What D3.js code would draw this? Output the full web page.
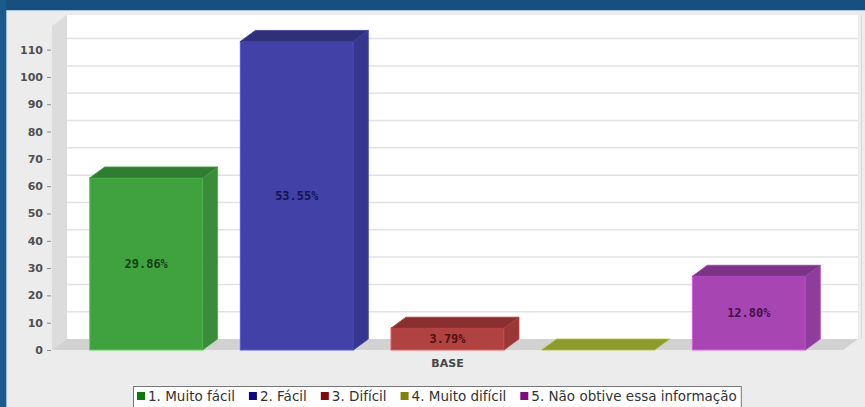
<!DOCTYPE html>
<html>
<head>
<meta charset="utf-8">
<script src="https://cdn.jsdelivr.net/npm/d3@7"></script>
<style>
  html, body { margin: 0; padding: 0; background: #ececec; }
  svg { display: block; }
</style>
</head>
<body>
<svg id="chart" width="865" height="407"></svg>
<script>
// Response counts per answer option (single category "BASE")
const category = "BASE";
const seriesNames = ["1. Muito fácil", "2. Fácil", "3. Difícil", "4. Muito difícil", "5. Não obtive essa informação"];
const counts = [63, 113, 8, 0, 27];
const yTicks = [0, 10, 20, 30, 40, 50, 60, 70, 80, 90, 100, 110];

// Palette: front face, top face, side face, label text, legend swatch
const frontColors = ["#3fa23f", "#4141a8", "#b04242", "#a0a032", "#a746b3"];
const topColors   = ["#2f7d30", "#30307a", "#8a2f2f", "#8d9a2c", "#7d3388"];
const sideColors  = ["#3a8c3b", "#36368f", "#993737", "#8f8f2a", "#8f3c9c"];
const labelColors = ["#173f17", "#15154f", "#4f1010", "#4a4a10", "#451048"];
const swatchColors = ["#0a7a0a", "#0a0a80", "#800a0a", "#80800a", "#800a80"];

const total = d3.sum(counts);
const pct = counts.map(c => (100 * c / total).toFixed(2) + "%");

const svg = d3.select("#chart");
const W = 865, H = 407;

// Frame: dark blue border bands
svg.append("rect").attr("x", 0).attr("y", 0).attr("width", W).attr("height", H).attr("fill", "#ececec");
svg.append("rect").attr("x", 0).attr("y", 0).attr("width", W).attr("height", 10).attr("fill", "#17507f");
svg.append("rect").attr("x", 0).attr("y", 0).attr("width", 6).attr("height", H).attr("fill", "#1b5a8c");
svg.append("line").attr("x1", 6).attr("x2", W).attr("y1", 10.5).attr("y2", 10.5).attr("stroke", "#a9c6de");
svg.append("line").attr("x1", 6.5).attr("x2", 6.5).attr("y1", 10).attr("y2", H).attr("stroke", "#9dbbd6");

// Plot geometry (front plane) and 3D depth offsets
const x0 = 52, x1 = 843, yBase = 350, yTop = 26;
const dx = 15, dy = 11;

const y = d3.scaleLinear().domain([0, 118.65]).range([yBase, yTop]);
const x = d3.scaleBand().domain(seriesNames).range([x0, x1]).paddingInner(0.25).paddingOuter(0.25);
const bw = x.bandwidth();

// Back wall
svg.append("rect").attr("x", x0 + dx).attr("y", yTop - dy)
  .attr("width", x1 - x0).attr("height", yBase - yTop).attr("fill", "#ffffff");
svg.append("line").attr("x1", x1 + dx + 3.5).attr("x2", x1 + dx + 3.5)
  .attr("y1", yTop - dy).attr("y2", yBase - dy).attr("stroke", "#dcdcdc");

// Gridlines on the back wall
svg.append("g").selectAll("line").data(yTicks.filter(t => t > 0)).join("line")
  .attr("x1", x0 + dx).attr("x2", x1 + dx)
  .attr("y1", d => y(d) - dy).attr("y2", d => y(d) - dy)
  .attr("stroke", "#e2e2e2").attr("stroke-width", 1.5);

// Left wall
svg.append("polygon")
  .attr("points", [[x0, yBase], [x0, yTop], [x0 + dx, yTop - dy], [x0 + dx, yBase - dy]].join(" "))
  .attr("fill", "#dcdcdc");

// Floor
svg.append("polygon")
  .attr("points", [[x0, yBase], [x0 + dx, yBase - dy], [x1 + dx, yBase - dy], [x1, yBase]].join(" "))
  .attr("fill", "#d2d2d2");

// Y axis
const yAxis = d3.axisLeft(y).tickValues(yTicks).tickSize(4).tickPadding(4);
const gy = svg.append("g").attr("transform", `translate(${x0 - 1},0)`).call(yAxis);
gy.select(".domain").remove();
gy.selectAll(".tick line").attr("stroke", "#888");
gy.selectAll(".tick text")
  .attr("fill", "#505050")
  .style("font-family", "DejaVu Sans")
  .style("font-weight", "bold")
  .style("font-size", "11px");

// 3D bars
const bars = svg.append("g").selectAll("g").data(seriesNames).join("g");
bars.each(function (name, i) {
  const g = d3.select(this);
  const bx = x(name);
  const vy = y(counts[i]);
  if (counts[i] > 0) {
    g.append("rect").attr("x", bx).attr("y", vy).attr("width", bw).attr("height", yBase - vy)
      .attr("fill", frontColors[i]).attr("stroke", d3.color(frontColors[i]).brighter(0.8)).attr("stroke-width", 1);
    g.append("polygon")
      .attr("points", [[bx + bw, vy], [bx + bw + dx, vy - dy], [bx + bw + dx, yBase - dy], [bx + bw, yBase]].join(" "))
      .attr("fill", sideColors[i]).attr("stroke", d3.color(sideColors[i]).brighter(0.6)).attr("stroke-width", 0.8);
  }
  g.append("polygon")
    .attr("points", [[bx, vy], [bx + dx, vy - dy], [bx + bw + dx, vy - dy], [bx + bw, vy]].join(" "))
    .attr("fill", topColors[i]).attr("stroke", d3.color(topColors[i]).brighter(0.6)).attr("stroke-width", 0.8);
  if (counts[i] > 0) {
    g.append("text")
      .attr("x", bx + bw / 2).attr("y", (vy + yBase) / 2)
      .attr("text-anchor", "middle").attr("dominant-baseline", "central")
      .attr("fill", labelColors[i])
      .style("font-family", "DejaVu Sans Mono").style("font-weight", "bold").style("font-size", "12px")
      .text(pct[i]);
  }
});

// Category label
svg.append("text").attr("x", (x0 + x1) / 2).attr("y", 367)
  .attr("text-anchor", "middle").attr("fill", "#454545")
  .style("font-family", "DejaVu Sans").style("font-weight", "bold").style("font-size", "11px")
  .text(category);

// Legend
const legend = svg.append("g");
const items = legend.selectAll("g").data(seriesNames).join("g");
items.append("rect").attr("width", 8).attr("height", 8).attr("y", -9)
  .attr("fill", (d, i) => swatchColors[i]);
items.append("text").attr("x", 11).attr("y", 0)
  .attr("fill", "#333")
  .style("font-family", "DejaVu Sans").style("font-size", "13.5px")
  .text(d => d);
let cx = 0;
const widths = [];
items.each(function () { widths.push(this.getBBox().width); });
const gap = 14;
const totalW = d3.sum(widths) + gap * (widths.length - 1);
const boxPad = 4;
const boxX = 133, boxW = totalW + 2 * boxPad;
items.attr("transform", (d, i) => {
  const t = `translate(${boxX + boxPad + cx},${401})`;
  cx += widths[i] + gap;
  return t;
});
legend.insert("rect", ":first-child")
  .attr("x", boxX + 0.5).attr("y", 386.5).attr("width", boxW).attr("height", 24)
  .attr("fill", "#ffffff").attr("stroke", "#777");
</script>
</body>
</html>
